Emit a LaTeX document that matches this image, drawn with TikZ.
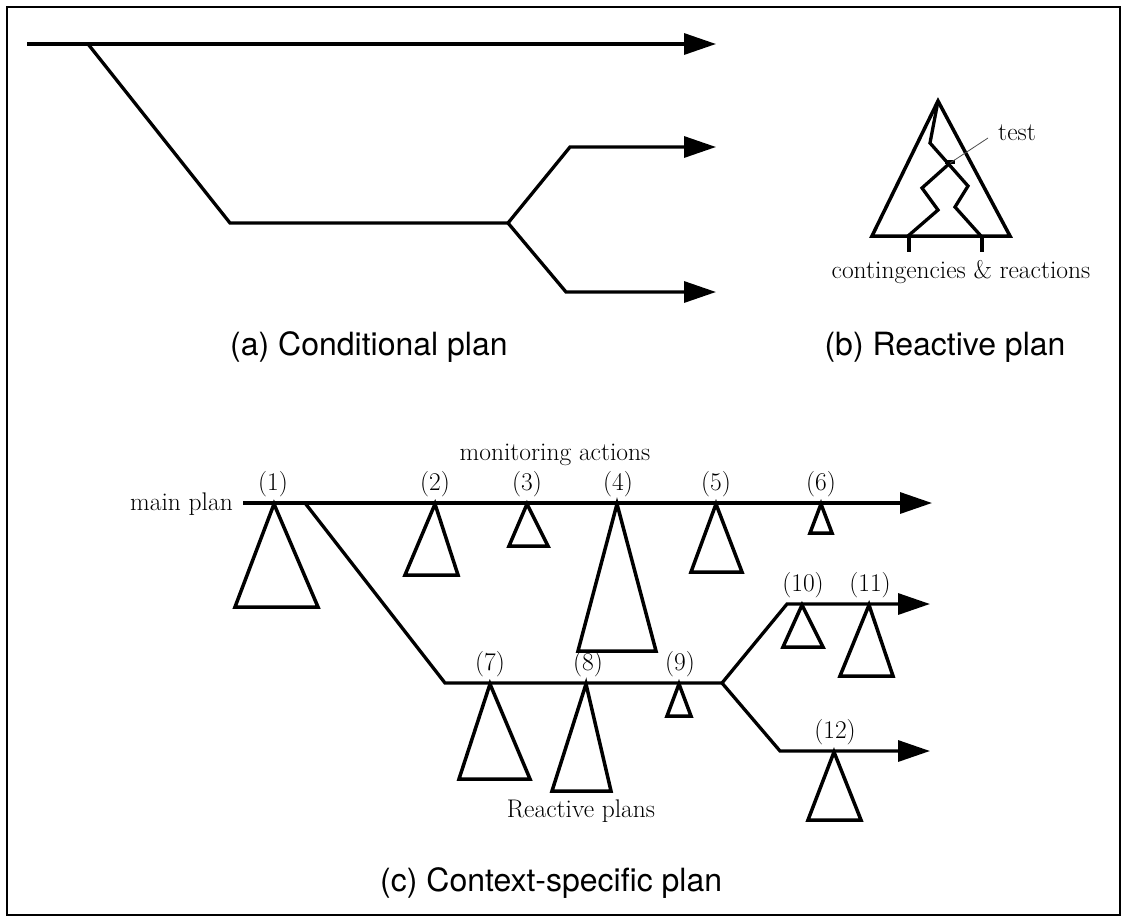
\documentclass[tikz,border=0pt]{standalone}
\usepackage{fontspec}
\setsansfont{TeX Gyre Heros}
\usetikzlibrary{arrows.meta}
\begin{document}
\begin{tikzpicture}[x=1pt,y=-1pt,
  ln/.style={line width=3.3pt, line join=miter},
  arr/.style={-{Triangle[length=32pt,width=21pt]}},
  tri/.style={line width=3.5pt, line join=miter},
  lbl/.style={font=\fontsize{25.5}{30}\selectfont, inner sep=0pt},
  captxt/.style={font=\sffamily\fontsize{32}{36}\selectfont, inner sep=0pt}]
\useasboundingbox (0,0) rectangle (1127,922);
\draw[line width=2pt] (7,7) rectangle (1120,915);

% ---------- (a) Conditional plan ----------
\coordinate (a0) at (27,44);
\coordinate (a1) at (88,44);
\coordinate (aE1) at (716,44);
\coordinate (a2) at (230,223);
\coordinate (a3) at (508,223);
\coordinate (a4) at (570,147);
\coordinate (aE2) at (716,147);
\coordinate (a5) at (566,292);
\coordinate (aE3) at (716,292);
\draw[ln,arr] (a0) -- (aE1);
\draw[ln] (a1) -- (a2) -- (a3);
\draw[ln,arr] (a3) -- (a4) -- (aE2);
\draw[ln,arr] (a3) -- (a5) -- (aE3);
\node[captxt,anchor=base west] (capa) at (230,355) {(a) Conditional plan};

% ---------- (b) Reactive plan ----------
\coordinate (bA) at (938,101);
\coordinate (bL) at (872,236);
\coordinate (bR) at (1010,236);
\draw[tri] (bA) -- (bL) -- (bR) -- cycle;
\coordinate (b1) at (930,143);
\coordinate (btest) at (950,163);
\coordinate (b2) at (968,186);
\coordinate (b3) at (955,207);
\coordinate (b4) at (981,236);
\coordinate (b5) at (922,188);
\coordinate (b6) at (938,210);
\coordinate (b7) at (908,236);
\draw[ln] (bA) -- (b1) -- (b2) -- (b3) -- (b4);
\draw[ln] (btest) -- (b5) -- (b6) -- (b7);
\draw[ln] (945,162) -- (955,162);
\coordinate (s1) at (909,252);
\coordinate (s2) at (982,252);
\draw[ln] (909,236) -- (s1);
\draw[ln] (982,236) -- (s2);
\node[lbl,anchor=base] (test) at (1017,140) {test};
\coordinate (lead) at (988,138);
\draw[line width=0.8pt, black!70] (btest) -- (lead);
\node[lbl,anchor=base] (cont) at (961,278) {contingencies \& reactions};
\node[captxt,anchor=base] (capb) at (945,355) {(b) Reactive plan};

% ---------- (c) Context-specific plan ----------
\node[lbl,anchor=base east] (mainplan) at (233,510) {main plan};
\coordinate (m0) at (243,503);
\coordinate (mE) at (932,503);
\draw[ln,arr] (m0) -- (mE);
\node[lbl,anchor=base] (mon) at (555,460) {monitoring actions};
\coordinate (d0) at (305,503);
\coordinate (d1) at (445,683);
\coordinate (d2) at (722,683);
\coordinate (d3) at (787,604);
\coordinate (dE1) at (930,604);
\coordinate (d4) at (780,751);
\coordinate (dE2) at (930,751);
\draw[ln] (d0) -- (d1) -- (d2);
\draw[ln,arr] (d2) -- (d3) -- (dE1);
\draw[ln,arr] (d2) -- (d4) -- (dE2);

\draw[tri] (274,504) -- (235,607) -- (318,607) -- cycle;
\draw[tri] (435,504) -- (405,575) -- (458,575) -- cycle;
\draw[tri] (527,504) -- (509,546) -- (548,546) -- cycle;
\draw[tri] (617,504) -- (578,651) -- (656,651) -- cycle;
\draw[tri] (716,504) -- (691,572) -- (742,572) -- cycle;
\draw[tri] (821,504) -- (810,533) -- (832,533) -- cycle;
\draw[tri] (490,684) -- (459,779) -- (530,779) -- cycle;
\draw[tri] (586,684) -- (552,791) -- (611,791) -- cycle;
\draw[tri] (679,684) -- (667,716) -- (691,716) -- cycle;
\draw[tri] (802,605) -- (783,647) -- (823,647) -- cycle;
\draw[tri] (869,605) -- (840,676) -- (893,676) -- cycle;
\draw[tri] (834,752) -- (808,820) -- (861,820) -- cycle;

\node[lbl,anchor=south] (l1) at (273,497) {(1)};
\node[lbl,anchor=south] (l2) at (435,497) {(2)};
\node[lbl,anchor=south] (l3) at (527,497) {(3)};
\node[lbl,anchor=south] (l4) at (618,497) {(4)};
\node[lbl,anchor=south] (l5) at (716,497) {(5)};
\node[lbl,anchor=south] (l6) at (821,497) {(6)};
\node[lbl,anchor=south] (l7) at (490,677) {(7)};
\node[lbl,anchor=south] (l8) at (588,677) {(8)};
\node[lbl,anchor=south] (l9) at (680,677) {(9)};
\node[lbl,anchor=south] (l10) at (803,598) {(10)};
\node[lbl,anchor=south] (l11) at (870,598) {(11)};
\node[lbl,anchor=south] (l12) at (835,745) {(12)};
\node[lbl,anchor=base] (rp) at (581,817) {Reactive plans};
\node[captxt,anchor=base west] (capc) at (380,891) {(c) Context-specific plan};
\end{tikzpicture}
\end{document}
